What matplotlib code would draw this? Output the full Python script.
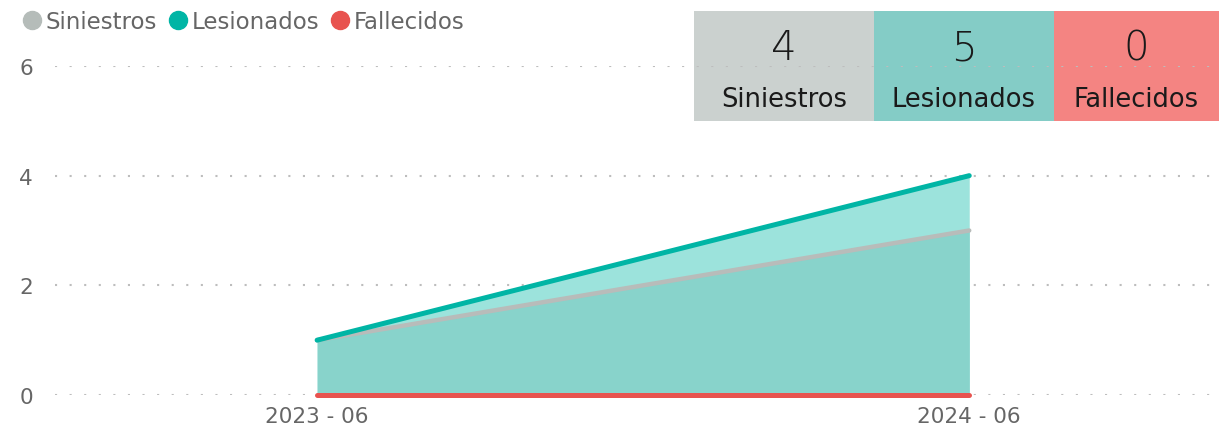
import matplotlib
matplotlib.use("Agg")
import matplotlib.pyplot as plt
from matplotlib.patches import Rectangle
from matplotlib.lines import Line2D

plt.rcParams['font.family'] = ['DejaVu Sans']

periods = ["2023 - 06", "2024 - 06"]
siniestros = [1, 3]
lesionados = [1, 4]
fallecidos = [0, 0]
kpi_labels = ["Siniestros", "Lesionados", "Fallecidos"]
kpi_values = [4, 5, 0]
yticks = [0, 2, 4, 6]

c_sin = "#b8bcba"
c_les = "#00b5a5"
c_fal = "#e8534f"
box_colors = ["#cbd1cf", "#84ccc6", "#f48482"]

W, H = 1219, 431
fig = plt.figure(figsize=(W / 100, H / 100), dpi=100)
ax = fig.add_axes([55 / W, (H - 396) / H, 1 - 55 / W, (396 - 67) / H])
ax.patch.set_alpha(0)

x = list(range(len(periods)))
ax.fill_between(x, 0, lesionados, color="#9ce3dc", lw=0, zorder=2)
ax.fill_between(x, 0, siniestros, color="#88d3cb", lw=0, zorder=2)
ax.plot(x, siniestros, color=c_sin, lw=3.2, solid_capstyle="round", zorder=3, clip_on=False)
ax.plot(x, lesionados, color=c_les, lw=3.6, solid_capstyle="round", zorder=4, clip_on=False)
ax.plot(x, fallecidos, color=c_fal, lw=3.6, solid_capstyle="round", zorder=5, clip_on=False)

ax.set_xlim(-0.402, 1.383)
ax.set_ylim(0, 6)
ax.set_yticks(yticks)
ax.set_xticks(x)
ax.set_xticklabels(periods)
ax.set_axisbelow("line")
ax.yaxis.grid(True, linestyle=(0, (1, 6)), color="#bdbdbd", lw=1.5)
for s in ax.spines.values():
    s.set_visible(False)
ax.tick_params(axis="both", length=0, labelsize=15.5, labelcolor="#666666")
ax.tick_params(axis="y", pad=16)
ax.tick_params(axis="x", pad=8)

# legend
handles = [Line2D([0], [0], marker="o", color="none", markerfacecolor=c, markeredgecolor=c, markersize=13)
           for c in ["#b5bcb9", c_les, c_fal]]
leg = fig.legend(handles, kpi_labels, loc="upper left", bbox_to_anchor=(8 / W, 1 - 2 / H),
                 ncol=3, frameon=False, fontsize=16.5, handletextpad=-0.05, columnspacing=0.25,
                 handlelength=1.3, borderaxespad=0)
for t in leg.get_texts():
    t.set_color("#666666")

# KPI boxes
edges = [694, 874, 1054, 1219]
for i in range(3):
    x0, x1 = edges[i], edges[i + 1]
    ax.add_patch(Rectangle((x0 / W, (H - 122) / H), (x1 - x0) / W, 110 / H,
                           transform=fig.transFigure, color=box_colors[i], zorder=1, lw=0,
                           clip_on=False))
    cx = (x0 + x1) / 2 / W
    fig.text(cx, (H - 49) / H, str(kpi_values[i]), ha="center", va="center", fontsize=29,
             color="#1a1a1a", fontweight="light")
    fig.text(cx, (H - 100) / H, kpi_labels[i], ha="center", va="center", fontsize=18.5, color="#1a1a1a")

fig.savefig("out.png", dpi=100)
